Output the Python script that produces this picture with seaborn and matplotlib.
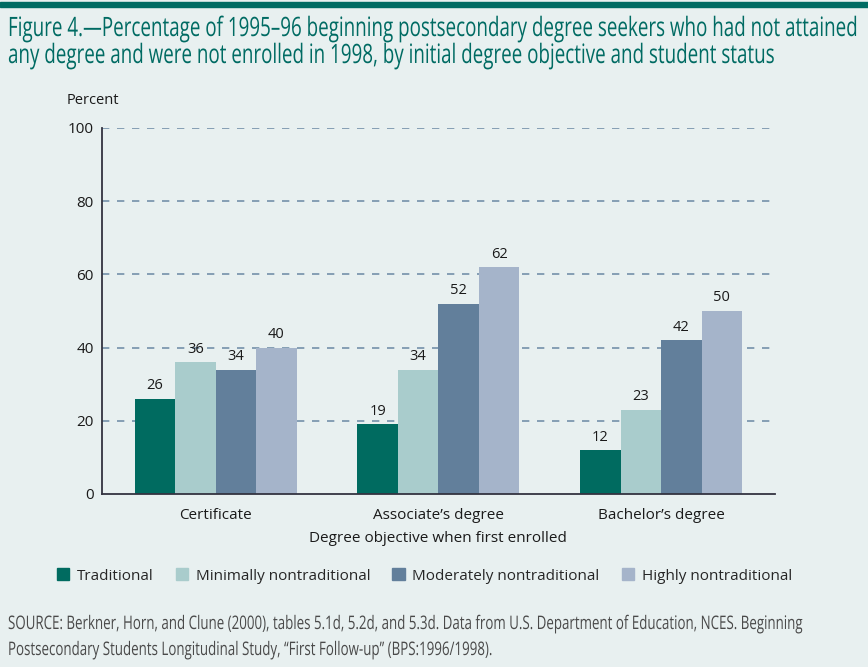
import matplotlib
matplotlib.use("Agg")
import matplotlib.pyplot as plt
import matplotlib.patches as mpatches
from matplotlib.patheffects import AbstractPathEffect
from matplotlib.transforms import Affine2D
import seaborn as sns
import pandas as pd

categories = ["Certificate", "Associate\u2019s degree", "Bachelor\u2019s degree"]
series = ["Traditional", "Minimally nontraditional", "Moderately nontraditional", "Highly nontraditional"]
traditional = [26, 19, 12]
minimally = [36, 34, 23]
moderately = [34, 52, 42]
highly = [40, 62, 50]
yticks = [0, 20, 40, 60, 80, 100]
colors = ["#006B60", "#A9CCCC", "#627F9B", "#A5B4CA"]

title_lines = ["Figure 4.\u2014Percentage of 1995\u201396 beginning postsecondary degree seekers who had not attained",
               "any degree and were not enrolled in 1998, by initial degree objective and student status"]
source_lines = ["SOURCE: Berkner, Horn, and Clune (2000), tables 5.1d, 5.2d, and 5.3d. Data from U.S. Department of Education, NCES. Beginning",
                "Postsecondary Students Longitudinal Study, \u201cFirst Follow-up\u201d (BPS:1996/1998)."]

rows = []
for s, vals in zip(series, [traditional, minimally, moderately, highly]):
    for c, v in zip(categories, vals):
        rows.append({"Degree": c, "Status": s, "Percent": v})
df = pd.DataFrame(rows)

sns.set_theme(style="white")
bg = "#E8F0F0"
plt.rcParams["font.family"] = ["Open Sans", "DejaVu Sans"]
narrow_family = ["Open Sans", "DejaVu Sans"]


class VStretch(AbstractPathEffect):
    """Stretch glyphs vertically about their baseline (imitates a condensed face)."""

    def __init__(self, sy):
        super().__init__()
        self.sy = sy

    def draw_path(self, renderer, gc, tpath, affine, rgbFace=None):
        m = affine.get_matrix()
        x0, y0 = m[0, 2], m[1, 2]
        t = affine + Affine2D().translate(-x0, -y0).scale(1, self.sy).translate(x0, y0)
        renderer.draw_path(gc, tpath, t, rgbFace)


fig = plt.figure(figsize=(8.68, 6.67), dpi=100, facecolor=bg)
ax = fig.add_axes([0.1175, 0.2594, 0.775, 0.5487])
ax.set_facecolor(bg)

sns.barplot(data=df, x="Degree", y="Percent", hue="Status", order=categories,
            hue_order=series, palette=colors, width=0.727, saturation=1,
            linewidth=0, ax=ax, legend=False)

for cont in ax.containers:
    ax.bar_label(cont, fmt="%d", padding=4, fontsize=10.5, color="#1a1a1a")

ax.set_xlim(-0.51, 2.51)
ax.set_ylim(0, 100)
ax.set_yticks(yticks)
ax.set_yticklabels([str(t) for t in yticks], fontsize=11, color="#1a1a1a")
ax.tick_params(axis="both", length=0, pad=6)
ax.tick_params(axis="x", labelsize=11, labelcolor="#1a1a1a", pad=10)
for t in yticks[1:]:
    ax.axhline(t, color="#7490AA", lw=1.2, ls=(0, (4.4, 4.6)), zorder=0)
for s in ["top", "right"]:
    ax.spines[s].set_visible(False)
for s in ["left", "bottom"]:
    ax.spines[s].set_color("#333340")
    ax.spines[s].set_linewidth(1.3)
ax.set_ylabel("")
ax.set_xlabel("Degree objective when first enrolled", fontsize=11, color="#1a1a1a", labelpad=6)

fig.text(67 / 868, 1 - 101 / 667, "Percent", fontsize=10.5, color="#1a1a1a", va="center", ha="left")

# top band
fig.patches.append(mpatches.Rectangle((0, 1 - 7 / 667), 1, 4.5 / 667, transform=fig.transFigure,
                                      color="#006B63", zorder=0))

renderer = fig.canvas.get_renderer()


def fitted_text(x_px, y_px, text, target_w, start_size, color, **kw):
    t = fig.text(x_px / 868, 1 - y_px / 667, text, fontsize=start_size, color=color,
                 va="baseline", ha="left", family=narrow_family, **kw)
    w = t.get_window_extent(renderer).width
    if w > 0:
        t.set_fontsize(start_size * target_w / w)
    return t


title_fx = [VStretch(1.42)]
t1 = fitted_text(8, 36, title_lines[0], 849, 18, "#006B63", path_effects=title_fx, weight="medium")
size_title = t1.get_fontsize()
fig.text(8 / 868, 1 - 63 / 667, title_lines[1], fontsize=size_title, color="#006B63",
         va="baseline", ha="left", family=narrow_family, path_effects=title_fx, weight="medium")

src_fx = [VStretch(1.4)]
s1 = fitted_text(8, 629, source_lines[0], 792, 12, "#4a4a4a", path_effects=src_fx)
size_src = s1.get_fontsize()
fig.text(8 / 868, 1 - 655 / 667, source_lines[1], fontsize=size_src, color="#4a4a4a",
         va="baseline", ha="left", family=narrow_family, path_effects=src_fx)

handles = [mpatches.Patch(color=c, label=s) for c, s in zip(colors, series)]
fig.legend(handles=handles, loc="center left", bbox_to_anchor=(57 / 868, 1 - 576 / 667), ncol=4,
           frameon=False, fontsize=11, handlelength=0.8, handleheight=0.8, handletextpad=0.5,
           columnspacing=1.45, borderaxespad=0, borderpad=0)

fig.savefig("out.png", dpi=100, facecolor=bg)
